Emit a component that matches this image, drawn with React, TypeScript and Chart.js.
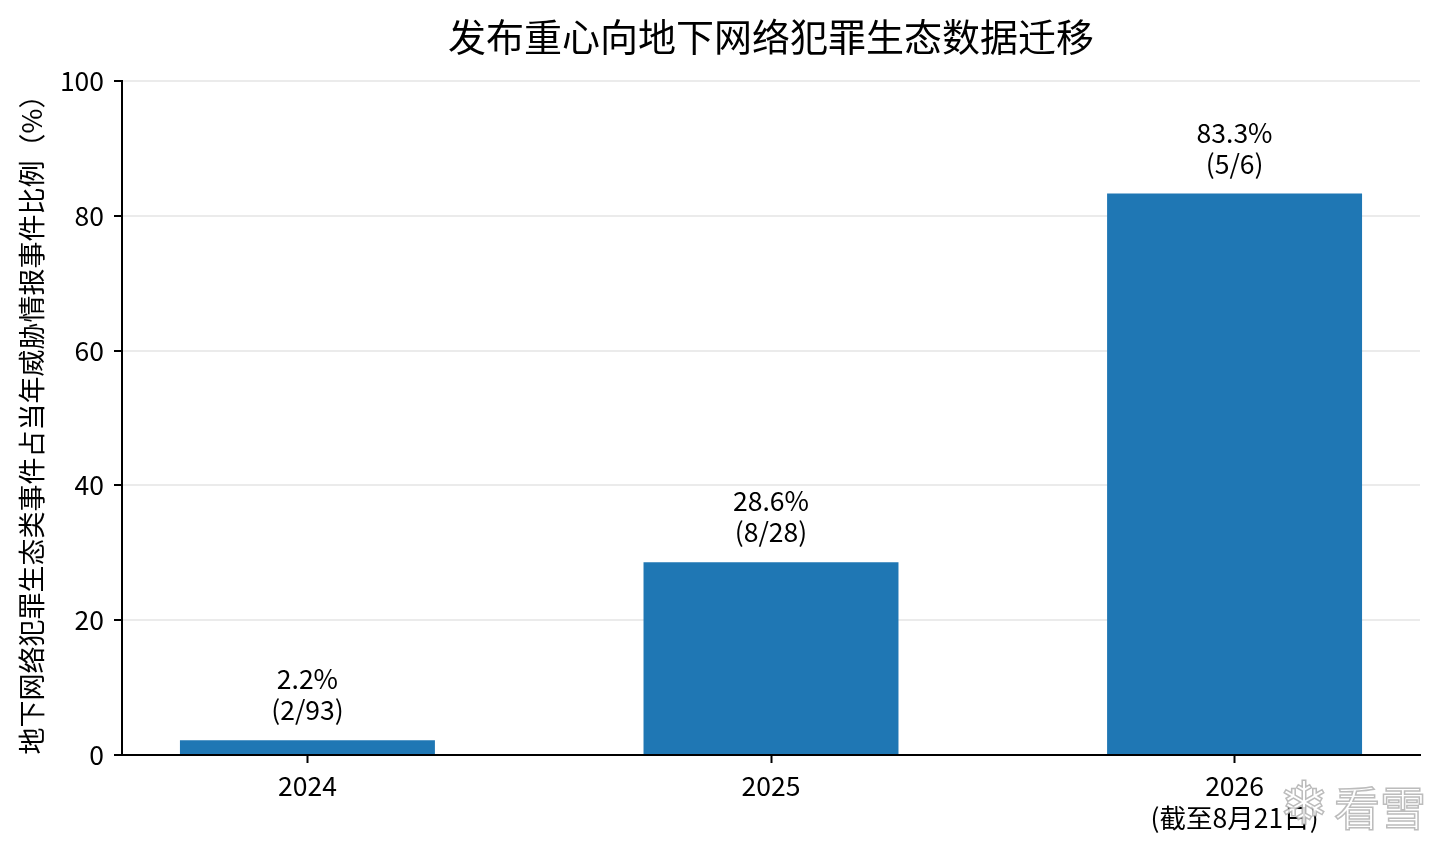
import React, { useEffect, useRef } from "react";
import { Chart, registerables } from "chart.js";

Chart.register(...registerables);

const categories: string[][] = [["2024"], ["2025"], ["2026", "(截至8月21日)"]];
const percentValues: number[] = [2.2, 28.6, 83.3];
const eventCounts: number[] = [2, 8, 5];
const eventTotals: number[] = [93, 28, 6];
const yTicks: number[] = [0, 20, 40, 60, 80, 100];

const TITLE = "发布重心向地下网络犯罪生态数据迁移";
const Y_TITLE = "地下网络犯罪生态类事件占当年威胁情报事件比例（%）";
const FONT = "'Noto Sans CJK SC', 'Noto Sans', sans-serif";
const BAR_COLOR = "#1f77b4";

const titlePlugin = {
  id: "centeredTitle",
  afterDraw(chart: any) {
    const ctx = chart.ctx;
    const area = chart.chartArea;
    ctx.save();
    ctx.font = `38px ${FONT}`;
    ctx.fillStyle = "#000";
    ctx.textAlign = "center";
    ctx.textBaseline = "middle";
    ctx.fillText(TITLE, (area.left + area.right) / 2, 37);
    ctx.restore();
  },
};

const labelPlugin = {
  id: "barLabels",
  afterDatasetsDraw(chart: any) {
    const ctx = chart.ctx;
    const meta = chart.getDatasetMeta(0);
    ctx.save();
    ctx.font = `26.5px ${FONT}`;
    ctx.fillStyle = "#000";
    ctx.textAlign = "center";
    ctx.textBaseline = "middle";
    meta.data.forEach((el: any, i: number) => {
      const l1 = `${percentValues[i].toFixed(1)}%`;
      const l2 = `(${eventCounts[i]}/${eventTotals[i]})`;
      ctx.fillText(l1, el.x, el.y - 61);
      ctx.fillText(l2, el.x, el.y - 30);
    });
    ctx.restore();
  },
};

const watermarkPlugin = {
  id: "watermark",
  afterDraw(chart: any) {
    const ctx = chart.ctx;
    const w = chart.width;
    const h = chart.height;
    ctx.save();
    ctx.textBaseline = "middle";
    ctx.textAlign = "right";
    ctx.font = `46px ${FONT}`;
    ctx.lineWidth = 1.5;
    ctx.strokeStyle = "rgba(160,160,160,0.7)";
    ctx.fillStyle = "rgba(255,255,255,0.85)";
    ctx.fillText("看雪", w - 14, h - 46);
    ctx.strokeText("看雪", w - 14, h - 46);
    ctx.font = `60px 'DejaVu Sans', sans-serif`;
    ctx.textAlign = "center";
    ctx.fillText("❄", w - 136, h - 46);
    ctx.strokeText("❄", w - 136, h - 46);
    ctx.restore();
  },
};

export default function App() {
  const ref = useRef<HTMLCanvasElement | null>(null);

  useEffect(() => {
    document.body.style.margin = "0";
    if (!ref.current) return;
    const chart = new Chart(ref.current, {
      type: "bar",
      data: {
        datasets: [
          {
            data: percentValues.map((v, i) => ({ x: i, y: v })),
            backgroundColor: BAR_COLOR,
            borderWidth: 0,
            barPercentage: 0.55,
            categoryPercentage: 1,
          },
        ],
      },
      options: {
        animation: false,
        responsive: false,
        maintainAspectRatio: false,
        layout: { padding: { left: 0, right: 20, top: 81, bottom: 0 } },
        plugins: {
          legend: { display: false },
          tooltip: { enabled: false },
          title: { display: false },
        },
        scales: {
          x: {
            type: "linear",
            offset: false,
            min: -0.4,
            max: 2.4,
            afterBuildTicks: (scale: any) => {
              scale.ticks = categories.map((_, i) => ({ value: i }));
            },
            afterFit: (scale: any) => {
              scale.height = 99;
            },
            ticks: {
              autoSkip: false,
              maxRotation: 0,
              padding: 7,
              color: "#000",
              font: { family: FONT, size: 26.5, lineHeight: 1.2 },
              callback: (v: any) => categories[Math.round(Number(v))] ?? "",
            },
            grid: {
              offset: false,
              drawOnChartArea: false,
              drawTicks: true,
              tickLength: 8,
              tickColor: "#000",
              tickWidth: 2,
            },
            border: { display: true, color: "#000", width: 2 },
          },
          y: {
            min: 0,
            max: 100,
            afterBuildTicks: (scale: any) => {
              scale.ticks = yTicks.map((v) => ({ value: v }));
            },
            afterFit: (scale: any) => {
              scale.width = 122;
            },
            ticks: {
              padding: 10,
              color: "#000",
              font: { family: FONT, size: 26.5 },
            },
            grid: {
              color: "#ebebeb",
              lineWidth: 2,
              tickLength: 8,
              tickColor: "#000",
              tickWidth: 2,
            },
            border: { display: true, color: "#000", width: 2 },
            title: {
              display: true,
              text: Y_TITLE,
              color: "#000",
              font: { family: FONT, size: 27 },
              padding: { top: 16, bottom: 0 },
            },
          },
        },
      },
      plugins: [labelPlugin, titlePlugin, watermarkPlugin],
    } as any);
    return () => chart.destroy();
  }, []);

  return (
    <div style={{ width: 1440, height: 854 }}>
      <canvas ref={ref} width={1440} height={854} style={{ width: 1440, height: 854, display: "block" }} />
    </div>
  );
}
